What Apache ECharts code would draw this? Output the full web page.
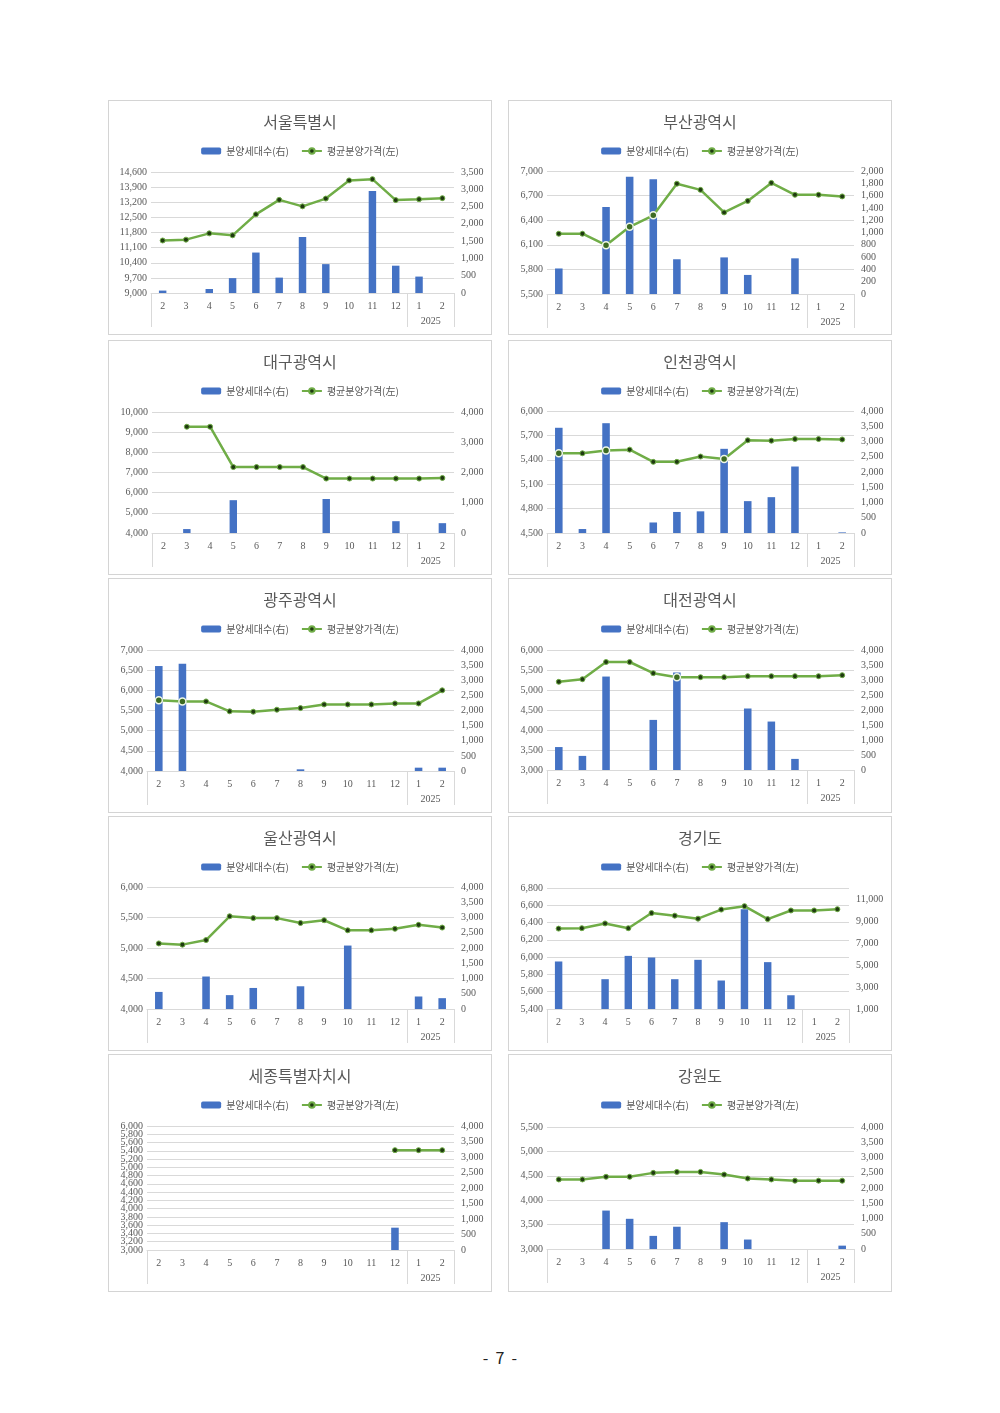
<!DOCTYPE html>
<html>
<head>
<meta charset="utf-8">
<script src="https://cdn.jsdelivr.net/npm/echarts@6/dist/echarts.min.js"></script>
<style>
body { margin: 0; background: #fff; }
#page { position: relative; width: 1000px; height: 1413px; }
.panel { position: absolute; border: 1px solid #d4d4d4; box-sizing: border-box; background: #fff; }
#pageNo { position: absolute; top: 1345px; left: 0; width: 1000px; text-align: center; white-space: pre;
  font: 16px "Noto Sans CJK KR", sans-serif; color: #222; }
</style>
</head>
<body>
<div id="page"><div id="pageNo">-  7  -</div></div>
<script>
"use strict";
/* ============= data ======================================== */
const months = ['2', '3', '4', '5', '6', '7', '8', '9', '10', '11', '12', '1', '2'];
const yearGroup = '2025';
const legendUnits = '분양세대수(右)';
const legendPrice = '평균분양가격(左)';

// units = bars (right axis), price = line (left axis); ticks = [min, max, interval]
const seoulUnits = [70, null, 115, 430, 1170, 445, 1620, 835, null, 2950, 790, 475, null];
const seoulPrice = [11430, 11470, 11760, 11670, 12640, 13310, 13010, 13370, 14210, 14270, 13300, 13340, 13390];
const seoulLeftTicks = [9000, 14600, 700];
const seoulRightTicks = [0, 3500, 500];

const busanUnits = [415, null, 1415, 1905, 1865, 565, null, 595, 310, null, 580, null, null];
const busanPrice = [6235, 6235, 6095, 6320, 6460, 6845, 6770, 6495, 6635, 6855, 6710, 6710, 6690];
const busanLeftTicks = [5500, 7000, 300];
const busanRightTicks = [0, 2000, 200];

const daeguUnits = [null, 130, null, 1085, null, null, null, 1125, null, null, 390, null, 325];
const daeguPrice = [null, 9270, 9270, 7270, 7270, 7270, 7270, 6700, 6700, 6700, 6700, 6700, 6730];
const daeguLeftTicks = [4000, 10000, 1000];
const daeguRightTicks = [0, 4000, 1000];

const incheonUnits = [3450, 130, 3600, null, 345, 690, 710, 2760, 1045, 1175, 2180, null, 20];
const incheonPrice = [5480, 5480, 5515, 5525, 5375, 5375, 5440, 5410, 5640, 5635, 5655, 5655, 5650];
const incheonLeftTicks = [4500, 6000, 300];
const incheonRightTicks = [0, 4000, 500];

const gwangjuUnits = [3470, 3545, null, null, null, null, 55, null, null, null, null, 110, 110];
const gwangjuPrice = [5755, 5725, 5725, 5480, 5470, 5520, 5560, 5650, 5650, 5650, 5675, 5675, 6000];
const gwangjuLeftTicks = [4000, 7000, 500];
const gwangjuRightTicks = [0, 4000, 500];

const daejeonUnits = [765, 470, 3115, null, 1670, 3250, null, null, 2050, 1615, 370, null, null];
const daejeonPrice = [5205, 5270, 5700, 5700, 5420, 5320, 5320, 5320, 5345, 5345, 5345, 5345, 5370];
const daejeonLeftTicks = [3000, 6000, 500];
const daejeonRightTicks = [0, 4000, 500];

const ulsanUnits = [560, null, 1065, 455, 690, null, 745, null, 2080, null, null, 410, 355];
const ulsanPrice = [5075, 5055, 5130, 5520, 5490, 5490, 5410, 5455, 5290, 5290, 5315, 5380, 5335];
const ulsanLeftTicks = [4000, 6000, 500];
const ulsanRightTicks = [0, 4000, 500];

const gyeonggiUnits = [5320, null, 3710, 5830, 5680, 3710, 5470, 3590, 10060, 5260, 2250, null, null];
const gyeonggiPrice = [6330, 6335, 6390, 6335, 6510, 6480, 6445, 6550, 6590, 6440, 6540, 6540, 6555];
const gyeonggiLeftTicks = [5400, 6800, 200];
const gyeonggiRightTicks = [1000, 12000, 2000];

const sejongUnits = [null, null, null, null, null, null, null, null, null, null, 720, null, null];
const sejongPrice = [null, null, null, null, null, null, null, null, null, null, 5415, 5415, 5415];
const sejongLeftTicks = [3000, 6000, 200];
const sejongRightTicks = [0, 4000, 500];

const gangwonUnits = [null, null, 1260, 990, 430, 730, null, 880, 310, null, null, null, 110];
const gangwonPrice = [4425, 4425, 4480, 4480, 4560, 4580, 4580, 4525, 4445, 4425, 4400, 4400, 4400];
const gangwonLeftTicks = [3000, 5500, 500];
const gangwonRightTicks = [0, 4000, 500];

/* ============= panels =================== */
const panels = [
    { name: '서울특별시', units: seoulUnits, price: seoulPrice, left: seoulLeftTicks, right: seoulRightTicks, hi: [] },
    { name: '부산광역시', units: busanUnits, price: busanPrice, left: busanLeftTicks, right: busanRightTicks, hi: [2, 3, 4] },
    { name: '대구광역시', units: daeguUnits, price: daeguPrice, left: daeguLeftTicks, right: daeguRightTicks, hi: [] },
    { name: '인천광역시', units: incheonUnits, price: incheonPrice, left: incheonLeftTicks, right: incheonRightTicks, hi: [0, 2, 7] },
    { name: '광주광역시', units: gwangjuUnits, price: gwangjuPrice, left: gwangjuLeftTicks, right: gwangjuRightTicks, hi: [0, 1] },
    { name: '대전광역시', units: daejeonUnits, price: daejeonPrice, left: daejeonLeftTicks, right: daejeonRightTicks, hi: [5] },
    { name: '울산광역시', units: ulsanUnits, price: ulsanPrice, left: ulsanLeftTicks, right: ulsanRightTicks, hi: [] },
    { name: '경기도', units: gyeonggiUnits, price: gyeonggiPrice, left: gyeonggiLeftTicks, right: gyeonggiRightTicks, hi: [] },
    { name: '세종특별자치시', units: sejongUnits, price: sejongPrice, left: sejongLeftTicks, right: sejongRightTicks, hi: [] },
    { name: '강원도', units: gangwonUnits, price: gangwonPrice, left: gangwonLeftTicks, right: gangwonRightTicks, hi: [] }
];

/** box of each panel on the page and its plot margins */
const layout = [
    { x: 108, y: 100, w: 384, h: 235, gl: 42, gr: 37, gt: 71, gb: 41 },
    { x: 508, y: 100, w: 384, h: 235, gl: 38, gr: 37, gt: 70, gb: 40 },
    { x: 108, y: 340, w: 384, h: 235, gl: 43, gr: 37, gt: 71, gb: 41 },
    { x: 508, y: 340, w: 384, h: 235, gl: 38, gr: 37, gt: 70, gb: 41 },
    { x: 108, y: 578, w: 384, h: 235, gl: 38, gr: 37, gt: 71, gb: 41 },
    { x: 508, y: 578, w: 384, h: 235, gl: 38, gr: 37, gt: 71, gb: 42 },
    { x: 108, y: 816, w: 384, h: 235, gl: 38, gr: 37, gt: 70, gb: 41 },
    { x: 508, y: 816, w: 384, h: 235, gl: 38, gr: 42, gt: 71, gb: 41 },
    { x: 108, y: 1054, w: 384, h: 238, gl: 38, gr: 37, gt: 71, gb: 41 },
    { x: 508, y: 1054, w: 384, h: 238, gl: 38, gr: 37, gt: 72, gb: 42 }
];

const TEXT = '#595959';
const GRID_LINE = '#d9d9d9';
const NUM_FONT = '"Liberation Serif", serif';
const KR_FONT = '"Noto Sans CJK KR", sans-serif';

function fmt(v) {
    return Number(v).toLocaleString('en-US');
}

function BuildOption(p, box) {
    let lineData = p.price.map((v, i) => {
        if (p.hi.indexOf(i) < 0 || v == null) return v;
        return { value: v, symbolSize: 7, itemStyle: { color: '#3d6b22', borderColor: '#eef6e6', borderWidth: 1.5 } };
    });
    // crowded left axis (세종): echarts drops the labels next to min/max, put them back on a twin axis
    let crowded = (p.left[1] - p.left[0]) / p.left[2] > 12;
    let labelStyle = { fontFamily: NUM_FONT, fontSize: 10, color: TEXT };
    return {
        animation: false,
        title: {
            text: p.name, left: 'center', top: 8,
            textStyle: { fontFamily: KR_FONT, fontSize: 16, fontWeight: 'normal', color: TEXT }
        },
        legend: {
            left: 'center', top: 40, itemWidth: 20, itemHeight: 7, itemGap: 12,
            textStyle: { fontFamily: KR_FONT, fontSize: 10, color: TEXT }
        },
        grid: { left: box.gl, right: box.gr, top: box.gt, bottom: box.gb },
        xAxis: [
            {
                type: 'category', data: months, position: 'bottom',
                axisLine: { onZero: false, lineStyle: { color: GRID_LINE } },
                axisTick: { show: false },
                axisLabel: Object.assign({ interval: 0, margin: 8 }, labelStyle)
            },
            {
                // group row under the months: separators and the year label
                type: 'value', min: 0, max: 13, position: 'bottom',
                axisLine: { show: false },
                splitLine: { show: false },
                axisTick: { show: true, customValues: [0, 11, 13], length: 34, lineStyle: { color: GRID_LINE } },
                axisLabel: Object.assign({ customValues: [12], margin: 23, formatter: () => yearGroup }, labelStyle)
            }
        ],
        yAxis: [
            {
                type: 'value', min: p.left[0], max: p.left[1], interval: p.left[2],
                axisLine: { show: false }, axisTick: { show: false },
                splitLine: { lineStyle: { color: GRID_LINE } },
                axisLabel: Object.assign({ margin: 4, formatter: fmt, showMinLabel: true, showMaxLabel: true }, labelStyle)
            },
            {
                type: 'value', min: p.right[0], max: p.right[1], interval: p.right[2],
                axisLine: { show: false }, axisTick: { show: false }, splitLine: { show: false },
                axisLabel: Object.assign({ margin: 7, formatter: fmt, showMinLabel: true,
                    showMaxLabel: (p.right[1] - p.right[0]) % p.right[2] == 0 }, labelStyle)
            },
            {
                type: 'value', position: 'left', min: p.left[0], max: p.left[1], interval: p.left[2],
                show: crowded,
                axisLine: { show: false }, axisTick: { show: false }, splitLine: { show: false },
                axisLabel: Object.assign({ margin: 4, formatter: fmt,
                    customValues: [p.left[0] + p.left[2], p.left[1] - p.left[2]] }, labelStyle)
            }
        ],
        series: [
            {
                name: legendUnits, type: 'bar', xAxisIndex: 0, yAxisIndex: 1, data: p.units,
                barWidth: '32%', itemStyle: { color: '#4472C4' }
            },
            {
                name: legendPrice, type: 'line', xAxisIndex: 0, yAxisIndex: 0, data: lineData,
                symbol: 'circle', symbolSize: 5, z: 5,
                lineStyle: { color: '#70AD47', width: 2.5 },
                itemStyle: { color: '#1f3a10', borderColor: '#70AD47', borderWidth: 1 }
            }
        ]
    };
}

const page = document.getElementById('page');
panels.forEach((p, i) => {
    let box = layout[i];
    let div = document.createElement('div');
    div.className = 'panel';
    div.style.left = box.x + 'px';
    div.style.top = box.y + 'px';
    div.style.width = box.w + 'px';
    div.style.height = box.h + 'px';
    page.appendChild(div);
    let chart = echarts.init(div);
    chart.setOption(BuildOption(p, box));
});
</script>
</body>
</html>
